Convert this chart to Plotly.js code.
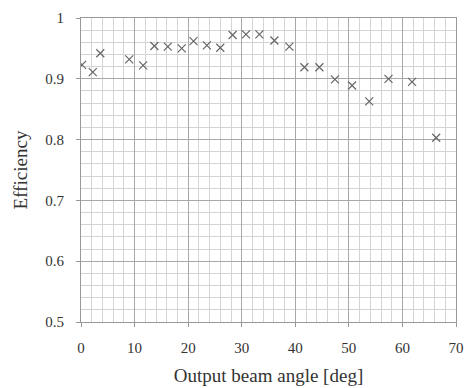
<!DOCTYPE html>
<html><head><meta charset="utf-8">
<script src="https://cdn.plot.ly/plotly-3.0.1.min.js"></script>
<style>body{margin:0;background:#fff}#c{width:469px;height:388px}</style>
</head><body><div id="c"></div>
<script>
var angle = [0.2, 2.2, 3.6, 9.0, 11.6, 13.7, 16.2, 18.8, 21.0, 23.5, 26.0, 28.3, 30.8, 33.3, 36.1, 38.9, 41.7, 44.5, 47.4, 50.6, 53.8, 57.4, 61.8, 66.3];
var efficiency = [0.923, 0.911, 0.942, 0.932, 0.922, 0.954, 0.953, 0.950, 0.962, 0.955, 0.951, 0.972, 0.973, 0.973, 0.963, 0.953, 0.919, 0.919, 0.899, 0.889, 0.863, 0.900, 0.895, 0.803];
var xTicks = [0, 10, 20, 30, 40, 50, 60, 70];
var yTicks = [0.5, 0.6, 0.7, 0.8, 0.9, 1];
var yTickText = ['0.5', '0.6', '0.7', '0.8', '0.9', '1'];

var tickFont = {family: 'Liberation Serif, Times New Roman, serif', size: 15, color: '#333'};
var titleFont = {family: 'Liberation Serif, Times New Roman, serif', size: 19, color: '#333'};
Plotly.newPlot('c', [{
  x: angle, y: efficiency, type: 'scatter', mode: 'markers',
  marker: {symbol: 'x-thin-open', size: 8, line: {width: 1.2, color: '#666'}, color: '#666'},
  hoverinfo: 'none'
}], {
  width: 469, height: 388,
  margin: {l: 81, r: 13, t: 18, b: 66},
  paper_bgcolor: '#fff', plot_bgcolor: '#fff',
  showlegend: false,
  font: tickFont,
  xaxis: {
    range: [0, 70], tickvals: xTicks, ticktext: xTicks.map(String),
    showgrid: true, gridcolor: '#a8a8a8', gridwidth: 1,
    minor: {dtick: 2, tick0: 0, showgrid: true, gridcolor: '#d4d4d4', gridwidth: 1},
    ticks: 'outside', ticklen: 4, tickcolor: '#999', ticklabelstandoff: 8,
    showline: true, linecolor: '#999', mirror: true,
    zeroline: false, tickfont: tickFont,
    title: {text: 'Output beam angle [deg]', font: titleFont, standoff: 13}
  },
  yaxis: {
    range: [0.5, 1], tickvals: yTicks, ticktext: yTickText,
    showgrid: true, gridcolor: '#a8a8a8', gridwidth: 1,
    minor: {dtick: 0.02, tick0: 0.5, showgrid: true, gridcolor: '#d4d4d4', gridwidth: 1},
    ticks: 'outside', ticklen: 4, tickcolor: '#999', ticklabelstandoff: 9,
    showline: true, linecolor: '#999', mirror: true,
    zeroline: false, tickfont: tickFont,
    title: {text: 'Efficiency', font: titleFont, standoff: 12}
  }
}, {staticPlot: true});
</script></body></html>
